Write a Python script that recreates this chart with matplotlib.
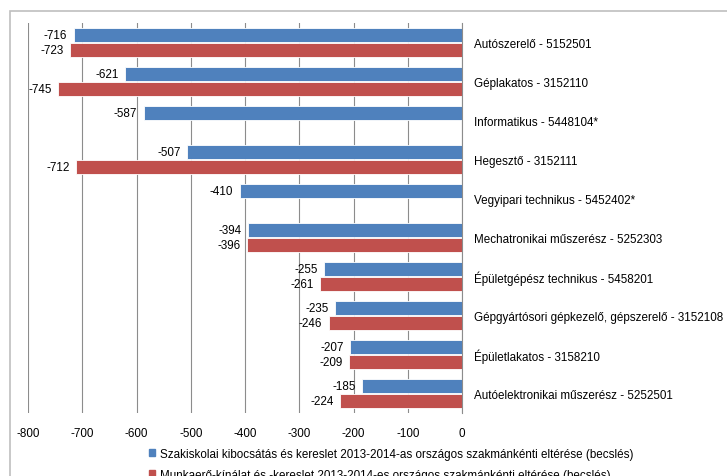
import matplotlib.pyplot as plt
import matplotlib.patches as mpatches
import numpy as np

plt.rcParams['font.family'] = ['Liberation Sans', 'DejaVu Sans']

categories = [
    "Autószerelő - 5152501",
    "Géplakatos - 3152110",
    "Informatikus - 5448104*",
    "Hegesztő - 3152111",
    "Vegyipari technikus - 5452402*",
    "Mechatronikai műszerész - 5252303",
    "Épületgépész technikus - 5458201",
    "Gépgyártósori gépkezelő, gépszerelő - 3152108",
    "Épületlakatos - 3158210",
    "Autóelektronikai műszerész - 5252501",
]
school = [-716, -621, -587, -507, -410, -394, -255, -235, -207, -185]
labour = [-723, -745, None, -712, None, -396, -261, -246, -209, -224]
xticks = [-800, -700, -600, -500, -400, -300, -200, -100, 0]

name_school = "Szakiskolai kibocsátás és kereslet 2013-2014-as országos szakmánkénti eltérése (becslés)"
name_labour = "Munkaerő-kínálat és -kereslet 2013-2014-es országos szakmánkénti eltérése (becslés)"

blue = "#4F81BD"
red = "#C0504D"
fs = 8.4

fig = plt.figure(figsize=(7.27, 4.77), dpi=100)
ax = fig.add_axes([28 / 727, 1 - 414 / 477, (462 - 28) / 727, (414 - 24) / 477])

# chart area border
fig.patches.append(mpatches.Rectangle((10 / 727, -0.1), 1.2, 1 - 12 / 477 + 0.1,
                                      transform=fig.transFigure, fill=False,
                                      edgecolor="#BFBFBF", linewidth=1.2))

y = np.arange(len(categories))
h = 0.36
off = 0.2

for i, v in enumerate(school):
    ax.barh(y[i] - off, v, height=h, color=blue, edgecolor="white", linewidth=0.6, zorder=3)
    ax.annotate(str(v), (v, y[i] - off), xytext=(-4.5, 0), textcoords="offset points",
                ha="right", va="center", fontsize=fs)
for i, v in enumerate(labour):
    if v is None:
        continue
    ax.barh(y[i] + off, v, height=h, color=red, edgecolor="white", linewidth=0.6, zorder=3)
    ax.annotate(str(v), (v, y[i] + off), xytext=(-4.5, 0), textcoords="offset points",
                ha="right", va="center", fontsize=fs)

ax.set_xlim(-800, 0)
ax.set_ylim(len(categories) - 0.5, -0.5)
ax.set_xticks(xticks)
ax.set_xticklabels([str(t) for t in xticks], fontsize=fs)
ax.tick_params(axis="x", length=0, pad=10)
ax.grid(axis="x", color="#8C8C8C", linewidth=0.8, zorder=0)

ax.yaxis.tick_right()
ax.set_yticks(y)
ax.set_yticklabels(categories, fontsize=fs)
ax.tick_params(axis="y", length=0, pad=9)

for s in ["top", "bottom", "left"]:
    ax.spines[s].set_visible(False)
ax.spines["right"].set_color("#8C8C8C")
ax.spines["right"].set_zorder(4)

handles = [mpatches.Patch(color=blue, label=name_school),
           mpatches.Patch(color=red, label=name_labour)]
fig.legend(handles=handles, loc="upper left", bbox_to_anchor=(149 / 727, 1 - 449 / 477),
           frameon=False, fontsize=fs, handlelength=0.55, handleheight=0.55,
           handletextpad=0.35, labelspacing=0.75, borderaxespad=0, borderpad=0)

fig.savefig("out.png", dpi=100)
